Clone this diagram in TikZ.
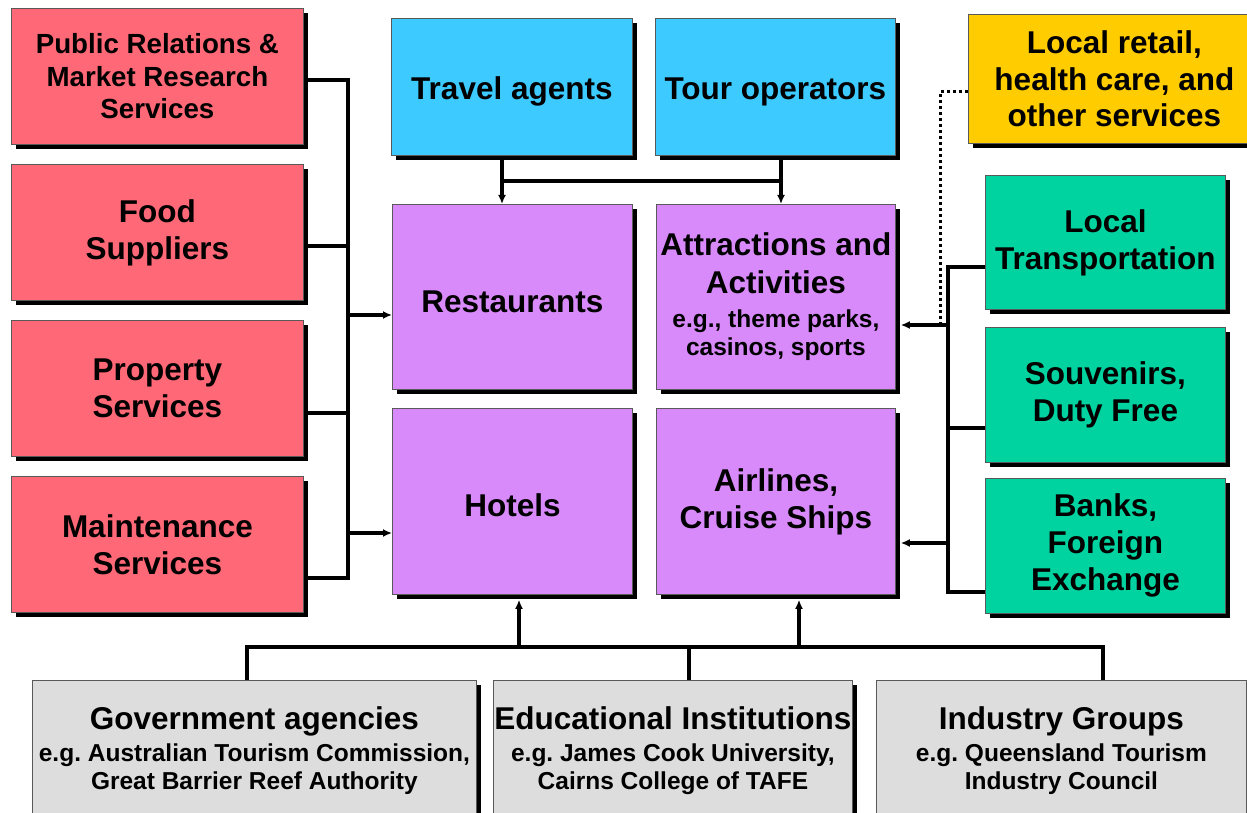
\documentclass[tikz,border=0pt]{standalone}
\usepackage{fontspec}
\setmainfont{Liberation Sans}
\usetikzlibrary{shadows,arrows.meta,calc}
\frenchspacing

\definecolor{cRed}{RGB}{255,104,118}
\definecolor{cBlue}{RGB}{60,202,255}
\definecolor{cPurple}{RGB}{217,138,250}
\definecolor{cYellow}{RGB}{255,204,0}
\definecolor{cGreen}{RGB}{0,210,160}
\definecolor{cGray}{RGB}{221,221,221}

\newcommand\subtxt{\fontsize{24.5}{28}\selectfont}

\tikzset{
  box/.style={rectangle, draw=black!65, line width=0.8pt, inner sep=0pt,
    align=center, anchor=north west,
    font=\bfseries\fontsize{31.5}{37}\selectfont,
    % a tall empty strut on the first line sets the text a little lower
    execute at begin node={\rule{0pt}{31pt}},
    drop shadow={shadow xshift=5pt, shadow yshift=-5pt, opacity=1, fill=black}},
  redbox/.style={box, fill=cRed},
  bluebox/.style={box, fill=cBlue},
  purplebox/.style={box, fill=cPurple},
  yellowbox/.style={box, fill=cYellow, font=\bfseries\fontsize{31.5}{36.5}\selectfont},
  greenbox/.style={box, fill=cGreen},
  graybox/.style={box, fill=cGray, font=\bfseries\fontsize{31.5}{28}\selectfont},
  conn/.style={line width=3.4pt, line join=miter},
  arr/.style={conn, -{Latex[length=9pt,width=8pt]}},
  dotline/.style={line width=3pt, dash pattern=on 3pt off 3pt},
}

\begin{document}
\begin{tikzpicture}[x=1pt,y=-1pt]
\clip (0,0) rectangle (1247,813);
\fill[white] (0,0) rectangle (1247,813);

% supplier boxes on the left
\node[redbox, minimum width=292pt, minimum height=136pt,
      font=\bfseries\fontsize{27.7}{32.5}\selectfont] (pr) at (11,8)
  {Public Relations \&\\Market Research\\Services};
\node[redbox, minimum width=292pt, minimum height=136pt] (food) at (11,164) {Food\\Suppliers};
\node[redbox, minimum width=292pt, minimum height=136pt] (prop) at (11,320) {Property\\Services};
\node[redbox, minimum width=292pt, minimum height=136pt] (maint) at (11,476) {Maintenance\\Services};

% intermediaries
\node[bluebox, minimum width=241pt, minimum height=137pt] (travel) at (391,18) {Travel agents};
\node[bluebox, minimum width=240pt, minimum height=137pt] (tour) at (655,18) {Tour operators};

% core tourism businesses
\node[purplebox, minimum width=240pt, minimum height=185pt] (rest) at (392,204) {Restaurants};
\node[purplebox, minimum width=239pt, minimum height=185pt,
      font=\bfseries\fontsize{31.5}{28}\selectfont] (attr) at (656,204)
  {Attractions and\\[10pt] Activities\\[6pt] \subtxt e.g., theme parks,\\ \subtxt casinos, sports};
\node[purplebox, minimum width=240pt, minimum height=186pt] (hot) at (392,408) {Hotels};
\node[purplebox, minimum width=239pt, minimum height=186pt] (air) at (656,408) {Airlines,\\Cruise Ships};

% right-hand services
\node[yellowbox, minimum width=292pt, minimum height=129pt] (yel) at (968,14)
  {Local retail,\\health care, and\\other services};
\node[greenbox, minimum width=240pt, minimum height=134pt] (lt) at (985,175) {Local\\Transportation};
\node[greenbox, minimum width=240pt, minimum height=135pt] (souv) at (985,327) {Souvenirs,\\Duty Free};
\node[greenbox, minimum width=240pt, minimum height=135pt] (bank) at (985,478) {Banks,\\Foreign\\Exchange};

% supporting organisations
\node[graybox, minimum width=444pt, minimum height=140pt] (gov) at (32,680)
  {Government agencies\\[4pt] \subtxt e.g. Australian Tourism Commission,\\ \subtxt Great Barrier Reef Authority};
\node[graybox, minimum width=359pt, minimum height=140pt] (edu) at (493,680)
  {Educational Institutions\\[4pt] \subtxt e.g. James Cook University,\\ \subtxt Cairns College of TAFE};
\node[graybox, minimum width=370pt, minimum height=140pt] (ind) at (876,680)
  {Industry Groups\\[4pt] \subtxt e.g. Queensland Tourism\\ \subtxt Industry Council};

% left bus
\coordinate (lb1) at (348,80);
\coordinate (lb2) at (348,246);
\coordinate (lb3) at (348,413);
\coordinate (lb4) at (348,578);
\coordinate (la1) at (348,315);
\coordinate (la2) at (348,533);
\draw[conn] (lb1 -| pr.east) -- (lb1) -- (lb4) -- (lb4 -| maint.east);
\draw[conn] (lb2 -| food.east) -- (lb2);
\draw[conn] (lb3 -| prop.east) -- (lb3);
\draw[arr] (la1) -- (la1 -| rest.west);
\draw[arr] (la2) -- (la2 -| hot.west);

% top links
\coordinate (t1) at (502,181);
\coordinate (t2) at (781,181);
\draw[arr] (t1 |- travel.south) -- (t1 |- rest.north);
\draw[arr] (t2 |- tour.south) -- (t2 |- attr.north);
\draw[conn] (t1) -- (t2);

% right bus
\coordinate (rb1) at (948,267);
\coordinate (rb2) at (948,428);
\coordinate (rb3) at (948,592);
\coordinate (ra1) at (948,325);
\coordinate (ra2) at (948,543);
\draw[conn] (rb1 -| lt.west) -- (rb1) -- (rb3) -- (rb3 -| bank.west);
\draw[conn] (rb2 -| souv.west) -- (rb2);
\draw[arr] (ra1) -- ($(ra1 -| attr.east)+(5,0)$);
\draw[arr] (ra2) -- ($(ra2 -| air.east)+(5,0)$);

% dotted link from local retail
\coordinate (d1) at (940,92);
\draw[dotline] (d1 -| yel.west) -- (d1) -- (d1 |- ra1);

% bottom bus
\coordinate (bb1) at (247,647);
\coordinate (bb2) at (689,647);
\coordinate (bb3) at (1103,647);
\coordinate (bu1) at (519,647);
\coordinate (bu2) at (799,647);
\draw[conn] (bb1 |- gov.north) -- (bb1) -- (bb3) -- (bb3 |- ind.north);
\draw[conn] (bb2) -- (bb2 |- edu.north);
\draw[arr] (bu1) -- ($(bu1 |- hot.south)+(0,5)$);
\draw[arr] (bu2) -- ($(bu2 |- air.south)+(0,5)$);
\end{tikzpicture}
\end{document}
